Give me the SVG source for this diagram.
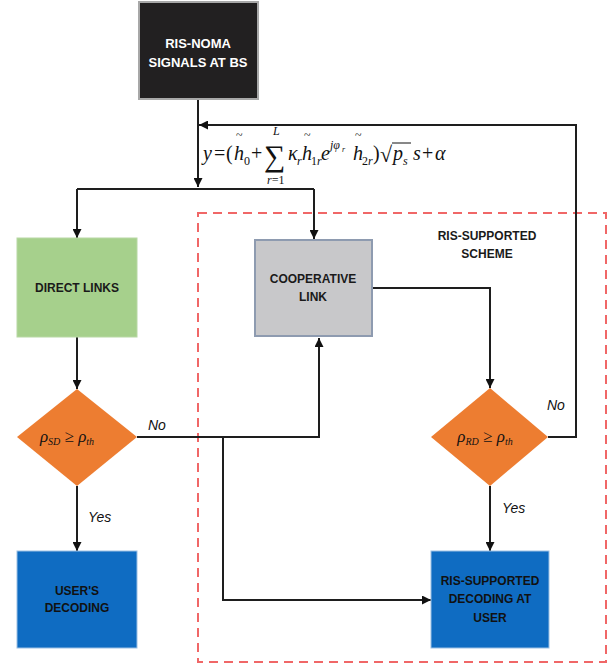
<svg xmlns="http://www.w3.org/2000/svg" width="615" height="666" viewBox="0 0 615 666">
<defs>
<style>
.lbl{font-family:"Liberation Sans",Arial,sans-serif;font-weight:bold;font-size:12px;text-anchor:middle;fill:#1a1a1a}
.w{fill:#ffffff;font-size:13px}
.blu{fill:#111}
.eq{font-family:"Liberation Serif","Times New Roman",serif;font-size:20px;fill:#111}
.i{font-style:italic}
.sub{font-size:12px}
.tl{font-size:12px}
.yn{font-family:"Liberation Sans",Arial,sans-serif;font-style:italic;font-size:14px;fill:#111}
.cn{fill:none;stroke:#1e1e1e;stroke-width:2}
</style>
<marker id="ah" viewBox="0 0 10 10" refX="10" refY="5" markerWidth="4.5" markerHeight="4.5" orient="auto" markerUnits="strokeWidth">
<path d="M0,0 L10,5 L0,10 z" fill="#111"/>
</marker>
</defs>
<rect width="615" height="666" fill="#ffffff"/>

<g id="scheme">
<rect x="198" y="213" width="408" height="449" fill="none" stroke="#f06767" stroke-width="2" stroke-dasharray="9 6"/>
<text class="lbl" x="487" y="240">RIS-SUPPORTED</text>
<text class="lbl" x="487" y="258">SCHEME</text>
</g>

<g id="connectors">
<path class="cn" d="M198,99 V187" marker-end="url(#ah)"/>
<path class="cn" d="M77,189 H314"/>
<path class="cn" d="M77,189 V238" marker-end="url(#ah)"/>
<path class="cn" d="M314,189 V239" marker-end="url(#ah)"/>
<path class="cn" d="M548,437 H576 V125 H199" marker-end="url(#ah)"/>
<path class="cn" d="M77,337 V389" marker-end="url(#ah)"/>
<path class="cn" d="M77,486 V551" marker-end="url(#ah)"/>
<path class="cn" d="M137,437 H319 V338" marker-end="url(#ah)"/>
<path class="cn" d="M223,437 V600 H431" marker-end="url(#ah)"/>
<path class="cn" d="M373,288 H490 V388" marker-end="url(#ah)"/>
<path class="cn" d="M490,486 V551" marker-end="url(#ah)"/>
<text class="yn" x="148" y="430">No</text>
<text class="yn" x="88" y="522">Yes</text>
<text class="yn" x="547" y="410">No</text>
<text class="yn" x="502" y="513">Yes</text>
</g>

<g id="equation">
<text class="eq i" x="203" y="160">y</text>
<text class="eq" x="214" y="160">=</text>
<text class="eq" x="226" y="160">(</text>
<text class="eq i" x="234" y="160">h</text>
<text class="eq tl" x="236" y="139">~</text>
<text class="eq sub" x="244" y="165">0</text>
<text class="eq" x="251" y="160">+</text>
<text class="eq" x="264" y="166" style="font-size:30px">∑</text>
<text class="eq i sub" x="273" y="135">L</text>
<text class="eq sub" x="267" y="184"><tspan class="i">r</tspan>=1</text>
<text class="eq i" x="288" y="160">κ</text>
<text class="eq i sub" x="297" y="165">r</text>
<text class="eq i" x="302" y="160">h</text>
<text class="eq tl" x="304" y="139">~</text>
<text class="eq i sub" x="311" y="165"><tspan font-style="normal">1</tspan>r</text>
<text class="eq i" x="321" y="160">e</text>
<text class="eq i" x="330" y="149" style="font-size:12px">jφ</text>
<text class="eq i" x="342" y="152" style="font-size:8px">r</text>
<text class="eq i" x="353" y="160">h</text>
<text class="eq tl" x="355" y="139">~</text>
<text class="eq i sub" x="362" y="165"><tspan font-style="normal">2</tspan>r</text>
<text class="eq" x="373" y="160">)</text>
<text class="eq" x="380" y="162" style="font-size:22px">√</text>
<line x1="392" y1="143" x2="411" y2="143" stroke="#111" stroke-width="1"/>
<text class="eq i" x="393" y="160">p</text>
<text class="eq i sub" x="403" y="165">s</text>
<text class="eq i" x="413" y="160">s</text>
<text class="eq" x="422" y="160">+</text>
<text class="eq i" x="435" y="160">α</text>
</g>

<g id="bs">
<rect x="139" y="2" width="119" height="97" fill="#222021" stroke="#a8a8a8" stroke-width="2"/>
<text class="lbl w" x="198" y="48">RIS-NOMA</text>
<text class="lbl w" x="198" y="67">SIGNALS AT BS</text>
</g>

<g id="direct">
<rect x="17" y="238" width="120" height="99" fill="#a6d08c" stroke="#b8d8a4" stroke-width="1"/>
<text class="lbl" x="77" y="292">DIRECT LINKS</text>
</g>

<g id="coop">
<rect x="255" y="240" width="117" height="96" fill="#c8c8ca" stroke="#8e9bb0" stroke-width="2"/>
<text class="lbl" x="313" y="283">COOPERATIVE</text>
<text class="lbl" x="313" y="301">LINK</text>
</g>

<g id="dec1">
<polygon points="77,389 137,437 77,486 17,437" fill="#ed7d31"/>
<text class="eq" x="67" y="442" text-anchor="middle" style="font-size:17px"><tspan class="i">ρ</tspan><tspan class="i" style="font-size:10px" dy="3">SD</tspan><tspan dy="-3"> ≥ </tspan><tspan class="i">ρ</tspan><tspan class="i" style="font-size:10px" dy="3">th</tspan></text>
</g>

<g id="dec2">
<polygon points="490,388 548,437 490,486 431,437" fill="#ed7d31"/>
<text class="eq" x="485" y="442" text-anchor="middle" style="font-size:17px"><tspan class="i">ρ</tspan><tspan class="i" style="font-size:10px" dy="3">RD</tspan><tspan dy="-3"> ≥ </tspan><tspan class="i">ρ</tspan><tspan class="i" style="font-size:10px" dy="3">th</tspan></text>
</g>

<g id="userdec">
<rect x="17" y="551" width="120" height="97" fill="#0f6cc2" stroke="#9cc0e4" stroke-width="1"/>
<text class="lbl blu" x="77" y="595">USER'S</text>
<text class="lbl blu" x="77" y="612">DECODING</text>
</g>

<g id="risdec">
<rect x="431" y="551" width="118" height="97" fill="#0f6cc2" stroke="#9cc0e4" stroke-width="1"/>
<text class="lbl blu" x="490" y="585">RIS-SUPPORTED</text>
<text class="lbl blu" x="490" y="603">DECODING AT</text>
<text class="lbl blu" x="490" y="622">USER</text>
</g>
</svg>
